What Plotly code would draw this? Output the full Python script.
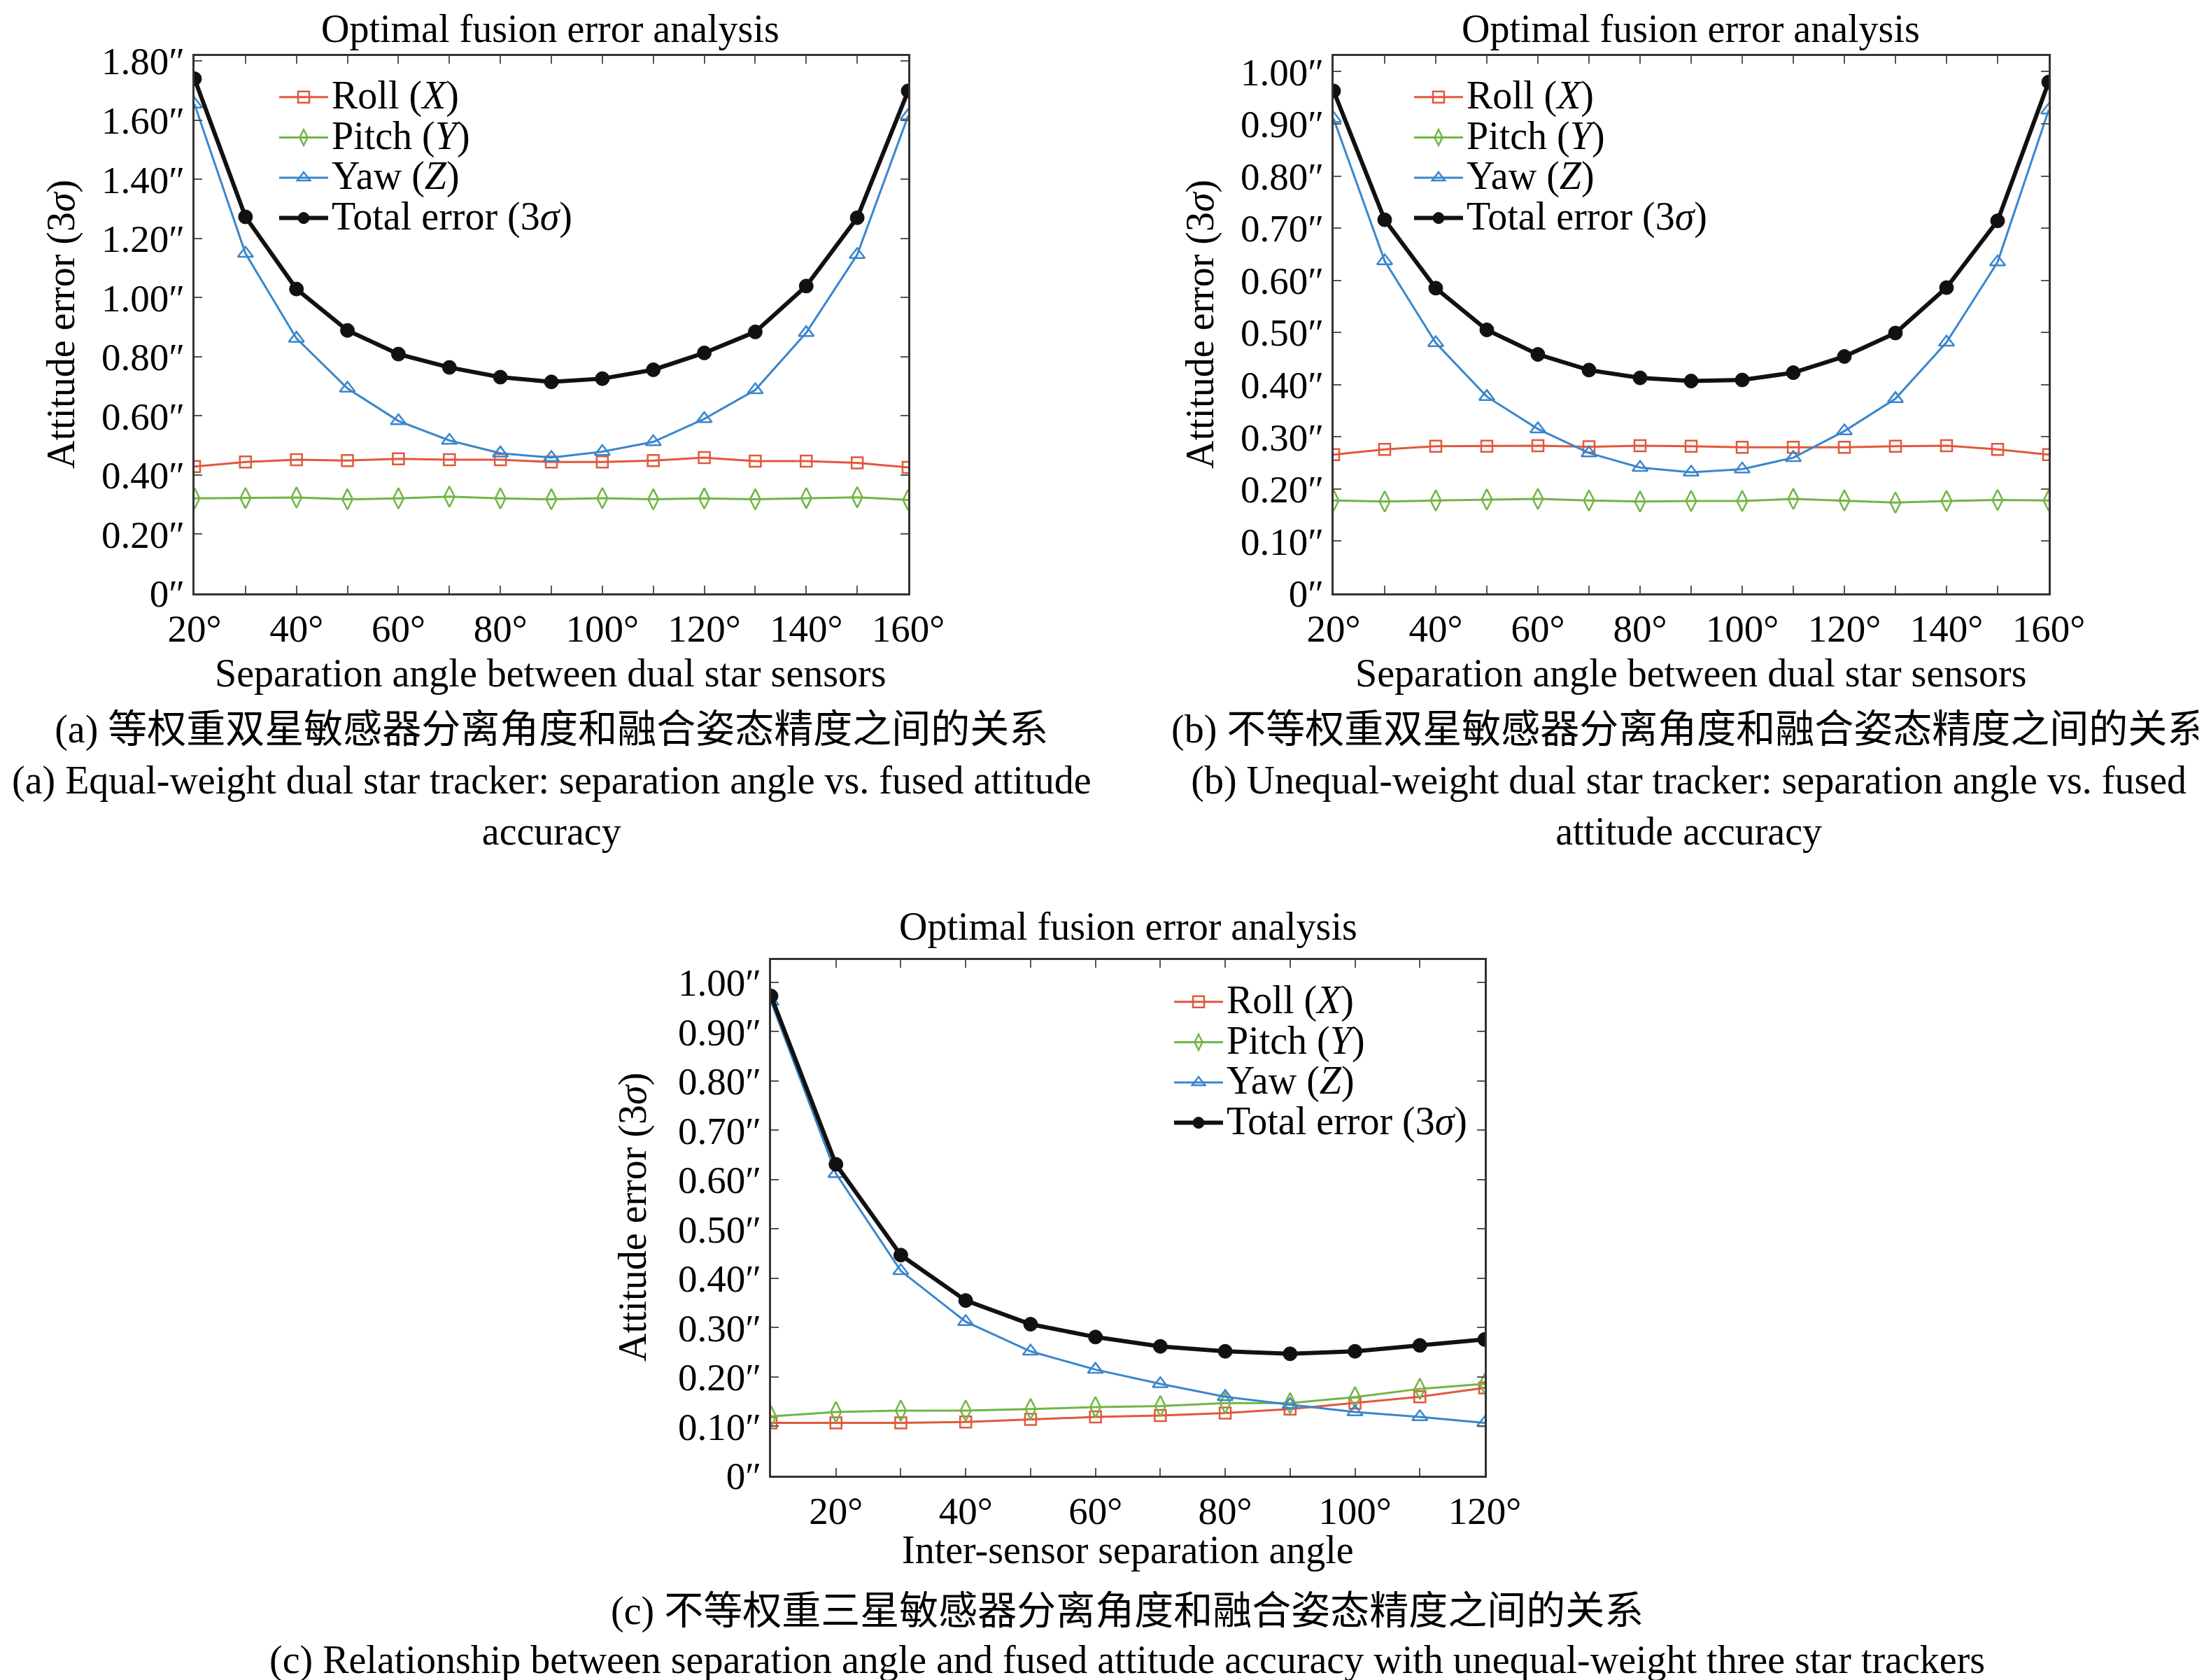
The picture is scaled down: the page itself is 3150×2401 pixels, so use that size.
import plotly.graph_objects as go

# ---------------- data ----------------
angles_ab = [20, 30, 40, 50, 60, 70, 80, 90, 100, 110, 120, 130, 140, 150, 160]
angles_c = [10, 20, 30, 40, 50, 60, 70, 80, 90, 100, 110, 120]

# (a) equal-weight dual star tracker
a_roll = [0.429, 0.444, 0.452, 0.449, 0.455, 0.452, 0.452, 0.444, 0.444, 0.449, 0.459, 0.447, 0.447, 0.441, 0.426]
a_pitch = [0.321, 0.322, 0.324, 0.318, 0.321, 0.327, 0.321, 0.318, 0.322, 0.318, 0.321, 0.318, 0.322, 0.325, 0.316]
a_yaw = [1.654, 1.149, 0.862, 0.693, 0.583, 0.517, 0.474, 0.459, 0.479, 0.512, 0.590, 0.688, 0.881, 1.145, 1.615]
a_total = [1.740, 1.273, 1.029, 0.889, 0.809, 0.764, 0.731, 0.715, 0.726, 0.756, 0.813, 0.884, 1.039, 1.270, 1.699]

# (b) unequal-weight dual star tracker
b_roll = [0.266, 0.276, 0.282, 0.282, 0.283, 0.281, 0.283, 0.282, 0.280, 0.280, 0.280, 0.282, 0.283, 0.276, 0.266]
b_pitch = [0.178, 0.176, 0.178, 0.180, 0.181, 0.178, 0.176, 0.177, 0.177, 0.181, 0.178, 0.174, 0.177, 0.179, 0.178]
b_yaw = [0.910, 0.637, 0.480, 0.377, 0.315, 0.269, 0.241, 0.232, 0.238, 0.260, 0.311, 0.373, 0.481, 0.635, 0.926]
b_total = [0.963, 0.716, 0.585, 0.505, 0.458, 0.428, 0.413, 0.407, 0.409, 0.423, 0.454, 0.499, 0.586, 0.714, 0.980]

# (c) unequal-weight three star trackers
c_roll = [0.107, 0.107, 0.107, 0.109, 0.114, 0.119, 0.122, 0.127, 0.135, 0.147, 0.160, 0.178]
c_pitch = [0.120, 0.129, 0.132, 0.132, 0.135, 0.139, 0.141, 0.147, 0.147, 0.159, 0.176, 0.186]
c_yaw = [0.961, 0.612, 0.415, 0.312, 0.252, 0.215, 0.186, 0.160, 0.144, 0.129, 0.119, 0.107]
c_total = [0.972, 0.631, 0.447, 0.355, 0.307, 0.281, 0.262, 0.252, 0.247, 0.252, 0.264, 0.276]

series_names = ["Roll (<i>X</i>)", "Pitch (<i>Y</i>)", "Yaw (<i>Z</i>)", "Total error (3<i>σ</i>)"]

# tick labels
xtick_ab_vals = [20, 30, 40, 50, 60, 70, 80, 90, 100, 110, 120, 130, 140, 150, 160]
xtick_ab_text = ["20°", "", "40°", "", "60°", "", "80°", "", "100°", "", "120°", "", "140°", "", "160°"]
xtick_c_vals = [10, 20, 30, 40, 50, 60, 70, 80, 90, 100, 110, 120]
xtick_c_text = ["", "20°", "", "40°", "", "60°", "", "80°", "", "100°", "", "120°"]
ytick_a_vals = [0, 0.2, 0.4, 0.6, 0.8, 1.0, 1.2, 1.4, 1.6, 1.8]
ytick_a_text = ["0″", "0.20″", "0.40″", "0.60″", "0.80″", "1.00″", "1.20″", "1.40″", "1.60″", "1.80″"]
ytick_bc_vals = [0, 0.1, 0.2, 0.3, 0.4, 0.5, 0.6, 0.7, 0.8, 0.9, 1.0]
ytick_bc_text = ["0″", "0.10″", "0.20″", "0.30″", "0.40″", "0.50″", "0.60″", "0.70″", "0.80″", "0.90″", "1.00″"]

plot_title = "Optimal fusion error analysis"
xlabel_ab = "Separation angle between dual star sensors"
xlabel_c = "Inter-sensor separation angle"
ylabel = "Attitude error (3<i>σ</i>)"
caption_a = ["(a) 等权重双星敏感器分离角度和融合姿态精度之间的关系",
             "(a) Equal-weight dual star tracker: separation angle vs. fused attitude",
             "accuracy"]
caption_b = ["(b) 不等权重双星敏感器分离角度和融合姿态精度之间的关系",
             "(b) Unequal-weight dual star tracker: separation angle vs. fused",
             "attitude accuracy"]
caption_c = ["(c) 不等权重三星敏感器分离角度和融合姿态精度之间的关系",
             "(c) Relationship between separation angle and fused attitude accuracy with unequal-weight three star trackers"]

# ---------------- styles ----------------
W, H = 3150, 2401
FONT = "Liberation Serif, Times New Roman, Noto Sans CJK SC, serif"
TXT = 56
C_ROLL = "#e0583c"
C_PITCH = "#72b544"
C_YAW = "#3a86cc"
C_TOT = "#111111"

styles = [
    dict(color=C_ROLL, width=3, symbol="square-open", size=16, mlw=2.5),
    dict(color=C_PITCH, width=3, symbol="diamond-tall-open", size=21, mlw=2.5),
    dict(color=C_YAW, width=3, symbol="triangle-up-open", size=19, mlw=2.5),
    dict(color=C_TOT, width=6, symbol="circle", size=20, mlw=1),
]

fig = go.Figure()

panels = [
    dict(x=angles_ab, ys=[a_roll, a_pitch, a_yaw, a_total], xa="x", ya="y", legend="legend"),
    dict(x=angles_ab, ys=[b_roll, b_pitch, b_yaw, b_total], xa="x2", ya="y2", legend="legend2"),
    dict(x=angles_c, ys=[c_roll, c_pitch, c_yaw, c_total], xa="x3", ya="y3", legend="legend3"),
]

for p in panels:
    for name, yv, st in zip(series_names, p["ys"], styles):
        fig.add_trace(go.Scatter(
            x=p["x"], y=yv,
            name='<span style="font-size:%dpx">%s</span>' % (TXT, name),
            mode="lines+markers",
            xaxis=p["xa"], yaxis=p["ya"], legend=p["legend"],
            line=dict(color=st["color"], width=st["width"]),
            marker=dict(symbol=st["symbol"], size=st["size"], color=st["color"],
                        line=dict(color=st["color"], width=st["mlw"])),
        ))

def px_x(v):
    return v / W

def px_y(v):
    return 1 - v / H

axis_common = dict(
    showline=True, linecolor="#333333", linewidth=2.5, mirror="ticks",
    ticks="inside", ticklen=11, tickwidth=2, tickcolor="#555555",
    showgrid=False, zeroline=False,
    tickfont=dict(family=FONT, size=55, color="black"),
    tickmode="array",
)

# pixel boxes [left, right, top, bottom]
box_a = (270, 1290, 72, 840)
box_b = (1898, 2920, 72, 840)
box_c = (1094, 2114, 1364, 2101)

def dom(box):
    l, r, t, b = box
    return [px_x(l), px_x(r)], [px_y(b), px_y(t)]

da_x, da_y = dom(box_a)
db_x, db_y = dom(box_b)
dc_x, dc_y = dom(box_c)

fig.update_layout(
    width=W, height=H,
    margin=dict(l=0, r=0, t=0, b=0, autoexpand=False),
    paper_bgcolor="white", plot_bgcolor="white",
    font=dict(family=FONT, size=TXT, color="black"),
    xaxis=dict(axis_common, domain=da_x, anchor="y", range=[20, 160],
               tickvals=xtick_ab_vals, ticktext=xtick_ab_text),
    yaxis=dict(axis_common, domain=da_y, anchor="x", range=[0, 1.817],
               tickvals=ytick_a_vals, ticktext=ytick_a_text),
    xaxis2=dict(axis_common, domain=db_x, anchor="y2", range=[20, 160],
                tickvals=xtick_ab_vals, ticktext=xtick_ab_text),
    yaxis2=dict(axis_common, domain=db_y, anchor="x2", range=[0, 1.03],
                tickvals=ytick_bc_vals, ticktext=ytick_bc_text),
    xaxis3=dict(axis_common, domain=dc_x, anchor="y3", range=[10, 120],
                tickvals=xtick_c_vals, ticktext=xtick_c_text),
    yaxis3=dict(axis_common, domain=dc_y, anchor="x3", range=[0, 1.045],
                tickvals=ytick_bc_vals, ticktext=ytick_bc_text),
)

legend_common = dict(
    font=dict(family=FONT, size=42, color="black"),
    bgcolor="rgba(0,0,0,0)", borderwidth=0,
    xanchor="left", yanchor="top", itemwidth=70,
    tracegroupgap=0,
)
fig.update_layout(
    legend=dict(legend_common, x=px_x(386), y=px_y(97)),
    legend2=dict(legend_common, x=px_x(2008), y=px_y(97)),
    legend3=dict(legend_common, x=px_x(1665), y=px_y(1390)),
)

ann = []
def text(x, y, s, size=TXT, angle=0, yanchor="middle"):
    ann.append(dict(x=px_x(x), y=px_y(y), xref="paper", yref="paper", text=s,
                    showarrow=False, xanchor="center", yanchor=yanchor,
                    textangle=angle, font=dict(family=FONT, size=size, color="black")))

# titles
text(778, 0, plot_title, yanchor="top")
text(2408, 0, plot_title, yanchor="top")
text(1604, 1316, plot_title)
# x labels
text(778, 954, xlabel_ab)
text(2408, 954, xlabel_ab)
text(1604, 2207, xlabel_c)
# y labels
text(80, 456, ylabel, angle=-90)
text(1708, 456, ylabel, angle=-90)
text(896, 1732, ylabel, angle=-90)
# captions
text(780, 1107, "<br>".join(caption_a))
text(2405, 1107, "<br>".join(caption_b))
text(1603, 2294, caption_c[0])
text(1603, 2364, caption_c[1])

fig.update_layout(annotations=ann)

fig.write_html("out.html")
